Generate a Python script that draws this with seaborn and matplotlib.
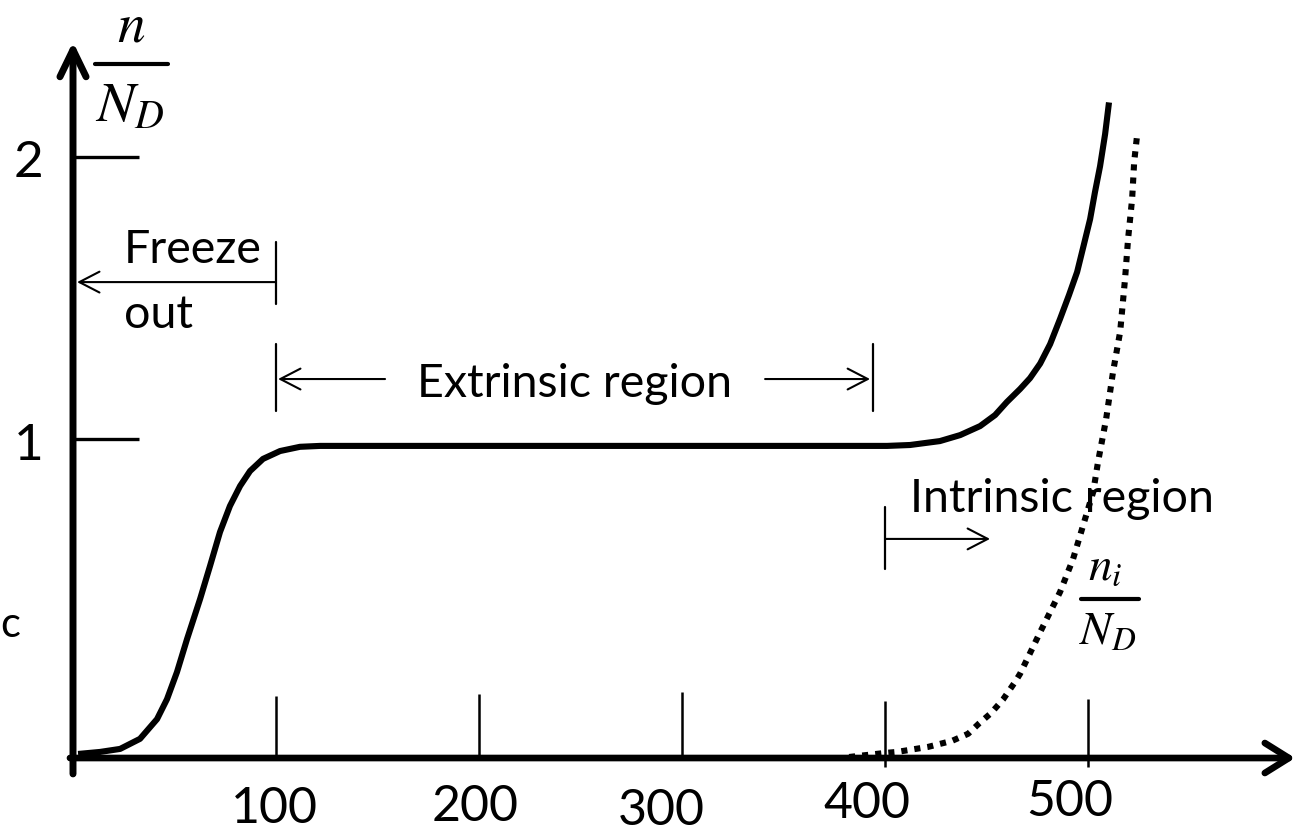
import numpy as np
import matplotlib
matplotlib.use("Agg")
import matplotlib.pyplot as plt
import seaborn as sns

# --- data: temperature vs n/N_D ---
t_total = [2.5, 13.3, 23.2, 33.0, 41.4, 46.3, 51.2, 56.2, 62.6, 67.5, 72.4,
           77.3, 82.3, 87.2, 93.6, 102, 111.8, 121.7, 200, 300, 401, 412.3,
           427, 437, 446.8, 454.2, 460, 466.5, 471.4, 476.4, 481.3, 486.2,
           490.6, 494.6, 498, 501, 503.4, 505.9, 508.4, 510.3]
n_total = [0.012, 0.018, 0.027, 0.057, 0.116, 0.176, 0.258, 0.360, 0.484,
           0.588, 0.696, 0.78, 0.845, 0.894, 0.934, 0.960, 0.974, 0.977,
           0.977, 0.977, 0.977, 0.98, 0.993, 1.013, 1.043, 1.080, 1.124,
           1.168, 1.205, 1.255, 1.322, 1.41, 1.494, 1.576, 1.677, 1.768,
           1.868, 1.965, 2.088, 2.21]

t_intr = [382.3, 400, 405.9, 421.2, 433, 440.9, 446.3, 452.2, 458.1, 464,
          466.5, 476.4, 486.2, 492.6, 497.5, 502.5, 504.9, 508.9, 512.3,
          515.8, 518.2, 519.7, 521.7, 522.7, 524.1]
n_intr = [0.003, 0.015, 0.018, 0.033, 0.051, 0.072, 0.103, 0.134, 0.175,
          0.228, 0.253, 0.381, 0.506, 0.61, 0.716, 0.825, 0.924, 1.067,
          1.227, 1.365, 1.551, 1.695, 1.843, 1.981, 2.08]

x_ticks = [100, 200, 300, 400, 500]
x_tick_labels = ["100", "200", "300", "400", "500"]
y_ticks = [1, 2]
y_tick_labels = ["1", "2"]

# hand-placed layout of the tick marks / labels (they wobble in the sketch)
xtick_top = [0.186, 0.192, 0.198, 0.170, 0.176]
xtick_bottom = [0, 0, 0, -0.027, -0.027]
xlab_x = [99, 198, 290, 391, 491]
xlab_base = [-0.1876, -0.1819, -0.1935, -0.1732, -0.1673]
ylab_base = [0.934, 1.928]


# the vertical axis of the sketch is slightly compressed towards the top
A, B = 337.5, 18.5


def fwd(y):
    return A * y - B * y ** 2


def inv(f):
    return (A - np.sqrt(np.maximum(A * A - 4 * B * f, 0))) / (2 * B)


sns.set_theme(style="white")
plt.rcParams["font.family"] = ["Lato", "DejaVu Sans"]
plt.rcParams["mathtext.fontset"] = "stix"
plt.rcParams["text.color"] = "black"

fig = plt.figure(figsize=(12.98, 8.37), dpi=100)
ax = fig.add_axes([0, 0, 1, 1])
ax.set_yscale("function", functions=(fwd, inv))
ax.set_xlim(-35.96, 603.4)
ax.set_ylim(-0.2282, 2.627)
ax.set_axis_off()

# curves
sns.lineplot(x=t_total, y=n_total, ax=ax, color="black", lw=4.4,
             estimator=None, sort=False, solid_capstyle="butt",
             solid_joinstyle="round")
sns.lineplot(x=t_intr, y=n_intr, ax=ax, color="black", lw=4.4,
             estimator=None, sort=False, linestyle=(0, (1.0, 1.15)),
             dash_capstyle="butt")

# axes drawn as arrows
ax.annotate("", xy=(0, 2.451), xytext=(0, -0.047),
            arrowprops=dict(arrowstyle="->,head_length=1.94,head_width=0.94",
                            lw=5, color="black", shrinkA=0, shrinkB=0,
                            mutation_scale=10))
ax.annotate("", xy=(602, 0), xytext=(-1.5, 0),
            arrowprops=dict(arrowstyle="->,head_length=1.73,head_width=1.08",
                            lw=4.8, color="black", shrinkA=0, shrinkB=0,
                            mutation_scale=10))

# ticks
ax.vlines(x_ticks, xtick_bottom, xtick_top, color="black", lw=1.8)
ax.hlines(y_ticks, 0, 32.5, color="black", lw=2.4)
for x, y, lab in zip(xlab_x, xlab_base, x_tick_labels):
    ax.text(x, y, lab, ha="center", va="baseline", fontsize=36)
for y, lab in zip(ylab_base, y_tick_labels):
    ax.text(-21.9, y, lab, ha="center", va="baseline", fontsize=37)
# stray letter at the left edge of the original picture
ax.text(-35.6, 0.369, "c", ha="left", va="baseline", fontsize=30)

# y label n / N_D
ax.text(28.6, 2.624, r"$n$", ha="center", va="top", fontsize=40)
ax.plot([10.8, 46.8], [2.362, 2.362], color="black", lw=3)
ax.text(27.8, 2.138, r"$N_D$", ha="center", va="baseline", fontsize=41)

# n_i / N_D label
ax.text(508.4, 0.547, r"$n_i$", ha="center", va="baseline", fontsize=34)
ax.plot([496.6, 525.1], [0.484, 0.484], color="black", lw=3)
ax.text(509.9, 0.344, r"$N_D$", ha="center", va="baseline", fontsize=34)


def bar(x, y0, y1):
    ax.plot([x, x], [y0, y1], color="black", lw=1.6)


def span_arrow(x0, x1, y):
    ax.annotate("", xy=(x1, y), xytext=(x0, y),
                arrowprops=dict(arrowstyle="->,head_length=1.45,head_width=0.75",
                                lw=1.5, color="black", shrinkA=0, shrinkB=0,
                                mutation_scale=10))


label_size = 33.5

# freeze out
bar(100, 1.462, 1.684)
span_arrow(100, 2, 1.54)
ax.text(25, 1.612, "Freeze", ha="left", va="baseline", fontsize=label_size)
ax.text(25, 1.382, "out", ha="left", va="baseline", fontsize=label_size)

# extrinsic region
bar(100, 1.094, 1.322)
bar(394, 1.094, 1.322)
span_arrow(153.7, 101, 1.202)
span_arrow(340.9, 392.6, 1.202)
ax.text(247, 1.144, "Extrinsic region", ha="center", va="baseline",
        fontsize=label_size)

# intrinsic region
bar(400, 0.578, 0.777)
span_arrow(400, 451.7, 0.674)
ax.text(412.3, 0.764, "Intrinsic region", ha="left", va="baseline",
        fontsize=label_size)

fig.savefig("out.png", dpi=100)
